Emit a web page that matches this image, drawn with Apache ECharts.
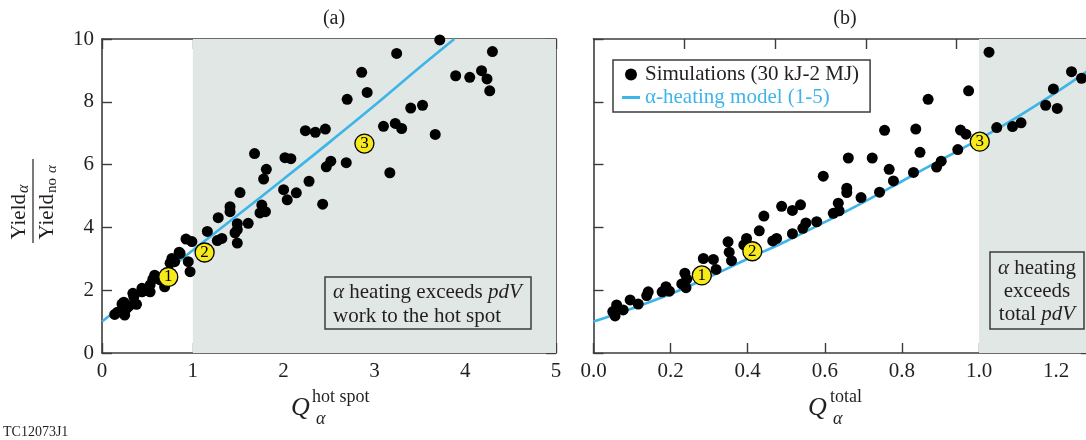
<!DOCTYPE html>
<html><head><meta charset="utf-8">
<script src="https://cdn.jsdelivr.net/npm/echarts@6/dist/echarts.min.js"></script>
<style>html,body{margin:0;padding:0;overflow:hidden;background:#fff}#c{width:1100px;height:440px}</style>
</head><body><div id="c"></div><script>
// ---- data ----
const simA = [[0.14,1.23],[0.17,1.30],[0.22,1.56],[0.25,1.21],[0.27,1.42],[0.24,1.62],[0.30,1.50],[0.34,1.90],[0.35,1.79],[0.38,1.55],
 [0.44,2.06],[0.44,1.95],[0.48,2.00],[0.53,1.95],[0.53,2.17],[0.56,2.35],[0.58,2.48],[0.64,2.33],[0.69,2.11],[0.75,2.86],
 [0.77,3.01],[0.80,2.91],[0.85,3.21],[0.86,3.17],[0.95,2.91],[0.97,2.59],[0.925,3.63],[0.99,3.55],[1.16,3.87],[1.27,3.58],
 [1.32,3.65],[1.28,4.31],[1.41,4.66],[1.41,4.50],[1.465,3.83],[1.49,3.93],[1.49,4.12],[1.61,4.13],[1.49,3.50],[1.52,5.11],
 [1.74,4.46],[1.76,4.71],[1.80,4.50],[1.68,6.35],[1.78,5.54],[1.81,5.85],[2.00,5.20],[2.04,4.88],[2.14,5.10],[2.015,6.22],
 [2.08,6.19],[2.28,5.47],[2.43,4.74],[2.24,7.08],[2.35,7.03],[2.46,7.13],[2.47,5.93],[2.52,6.11],[2.69,6.06],[2.70,8.08],
 [2.86,8.94],[2.92,8.30],[3.10,7.22],[3.17,5.74],[3.23,7.31],[3.30,7.15],[3.245,9.54],[3.40,7.80],[3.53,7.89],[3.67,6.96],
 [3.72,9.97],[3.895,8.83],[4.05,8.78],[4.18,8.99],[4.24,8.73],[4.27,8.35],[4.30,9.60]];
const modelA = [[0,1.0],[0.5,2.13],[1,3.27],[1.5,4.4],[2,5.54],[2.5,6.7],[3,7.88],[3.5,9.1],[3.88,10.0]];
const markersA = [[0.73,2.42,'1'],[1.13,3.2,'2'],[2.89,6.67,'3']];

const simB = [[0.05,1.32],[0.056,1.18],[0.06,1.53],[0.077,1.37],[0.095,1.69],[0.116,1.56],[0.138,1.83],[0.142,1.95],[0.178,1.95],[0.188,2.11],
 [0.197,1.97],[0.229,2.20],[0.24,2.08],[0.237,2.54],[0.242,2.35],[0.285,3.01],[0.311,2.98],[0.318,2.66],[0.349,3.54],[0.352,3.21],
 [0.358,2.94],[0.39,3.44],[0.397,3.65],[0.43,3.89],[0.442,4.36],[0.465,3.57],[0.475,3.65],[0.488,4.67],[0.516,4.54],[0.537,4.72],
 [0.516,3.80],[0.543,3.97],[0.551,4.14],[0.579,4.18],[0.596,5.63],[0.622,4.45],[0.637,4.53],[0.635,4.77],[0.657,5.25],[0.657,5.11],
 [0.661,6.21],[0.694,4.95],[0.723,6.21],[0.742,5.12],[0.755,7.09],[0.767,5.85],[0.778,5.48],[0.830,5.75],[0.836,7.13],[0.847,6.39],
 [0.868,8.08],[0.890,5.92],[0.902,6.11],[0.945,6.48],[0.952,7.10],[0.966,6.97],[0.973,8.35],[1.026,9.58],[1.046,7.18],[1.087,7.21],
 [1.109,7.33],[1.173,7.89],[1.203,7.79],[1.193,8.41],[1.24,8.96],[1.266,8.75]];
const modelB = [[0,1.0],[0.1,1.42],[0.2,1.88],[0.3,2.42],[0.4,3.0],[0.5,3.56],[0.6,4.17],[0.7,4.8],[0.8,5.47],[0.9,6.14],[1.0,6.8],[1.1,7.52],[1.2,8.3],[1.29,9.05]];
const markersB = [[0.281,2.47,'1'],[0.412,3.24,'2'],[1.002,6.73,'3']];

const nameSim = 'Simulations (30 kJ-2 MJ)';
const nameModel = '\u03b1-heating model (1-5)';
const panelTitles = ['(a)', '(b)'];

// ---- styles ----
const FONT = '"Liberation Serif", "DejaVu Serif", serif';
const INK = '#231f20';
const AXIS = '#3c3c3c';
const SHADE = '#e1e7e4';
const BLUE = '#3db5e8';

function axisBase(extra) {
  return Object.assign({
    type: 'value',
    axisLine: { show: true, onZero: false, lineStyle: { color: AXIS, width: 1.6 } },
    axisTick: { show: true, inside: true, length: 10, lineStyle: { color: AXIS, width: 1.4 } },
    splitLine: { show: false },
    axisLabel: { show: false, color: INK, fontFamily: FONT, fontSize: 21, margin: 8 }
  }, extra);
}

const option = {
  animation: false,
  backgroundColor: '#fff',
  title: [
    { text: panelTitles[0], left: 329, top: 4, textAlign: 'center', textStyle: { fontFamily: FONT, fontSize: 20, fontWeight: 'normal', color: INK } },
    { text: panelTitles[1], left: 840, top: 4, textAlign: 'center', textStyle: { fontFamily: FONT, fontSize: 20, fontWeight: 'normal', color: INK } }
  ],
  grid: [
    { left: 102, top: 39, width: 454, height: 314 },
    { left: 593.5, top: 39, width: 497.3, height: 314 }
  ],
  xAxis: [
    axisBase({ gridIndex: 0, position: 'bottom', min: 0, max: 5, interval: 1,
      axisLabel: { show: true, color: INK, fontFamily: FONT, fontSize: 21, margin: 8 } }),
    axisBase({ gridIndex: 0, position: 'top', min: 0, max: 5, interval: 1 }),
    axisBase({ gridIndex: 1, position: 'bottom', min: 0, max: 1.29, interval: 0.2,
      axisLabel: { show: true, color: INK, fontFamily: FONT, fontSize: 21, margin: 8, showMaxLabel: false,
        formatter: v => (Math.abs(v / 0.2 - Math.round(v / 0.2)) < 1e-6 ? v.toFixed(1) : '') } }),
    axisBase({ gridIndex: 1, position: 'top', min: 0, max: 5.477, interval: 1,
      axisTick: { show: true, inside: true, length: 10, customValues: [1, 2, 3, 4], lineStyle: { color: AXIS, width: 1.4 } } })
  ],
  yAxis: [
    axisBase({ gridIndex: 0, position: 'left', min: 0, max: 10, interval: 2,
      axisLabel: { show: true, color: INK, fontFamily: FONT, fontSize: 21, margin: 8 } }),
    axisBase({ gridIndex: 0, position: 'right', min: 0, max: 10, interval: 2 }),
    axisBase({ gridIndex: 1, position: 'left', min: 0, max: 10, interval: 2 }),
    axisBase({ gridIndex: 1, position: 'right', min: 0, max: 10, interval: 2 })
  ],
  legend: {
    orient: 'vertical', left: 613, top: 60,
    padding: [3, 11, 3, 9], itemGap: 0, itemWidth: 18, itemHeight: 12,
    borderColor: AXIS, borderWidth: 1.5, backgroundColor: '#fff',
    textStyle: { fontFamily: FONT, fontSize: 21, color: INK, lineHeight: 23 },
    data: [
      { name: nameSim, icon: 'circle' },
      { name: nameModel, icon: 'path://M0,0H18V3H0Z', itemStyle: { color: BLUE }, textStyle: { color: BLUE } }
    ]
  },
  series: [
    { type: 'scatter', xAxisIndex: 0, yAxisIndex: 0, data: [[-1, -1]], silent: true, z: 0, symbolSize: 0,
      markArea: { silent: true, itemStyle: { color: SHADE }, data: [[{ xAxis: 1, yAxis: 0 }, { xAxis: 5, yAxis: 10 }]] } },
    { type: 'scatter', xAxisIndex: 2, yAxisIndex: 2, data: [[-1, -1]], silent: true, z: 0, symbolSize: 0,
      markArea: { silent: true, itemStyle: { color: SHADE }, data: [[{ xAxis: 1.0, yAxis: 0 }, { xAxis: 1.29, yAxis: 10 }]] } },
    { name: nameModel, type: 'line', xAxisIndex: 0, yAxisIndex: 0, data: modelA, symbol: 'none', smooth: 0.3, z: 2,
      lineStyle: { color: BLUE, width: 2.6 }, itemStyle: { color: BLUE } },
    { name: nameModel, type: 'line', xAxisIndex: 2, yAxisIndex: 2, data: modelB, symbol: 'none', smooth: 0.3, z: 2,
      lineStyle: { color: BLUE, width: 2.6 }, itemStyle: { color: BLUE } },
    { name: nameSim, type: 'scatter', xAxisIndex: 0, yAxisIndex: 0, data: simA, symbol: 'circle', symbolSize: 11, z: 3,
      itemStyle: { color: '#000', opacity: 1 } },
    { name: nameSim, type: 'scatter', xAxisIndex: 2, yAxisIndex: 2, data: simB, symbol: 'circle', symbolSize: 11, z: 3,
      itemStyle: { color: '#000', opacity: 1 } },
    { name: 'markersA', type: 'scatter', xAxisIndex: 0, yAxisIndex: 0, data: markersA, symbolSize: 19, z: 4,
      itemStyle: { color: '#f7ea1c', borderColor: '#000', borderWidth: 1.3, opacity: 1 },
      label: { show: true, position: 'inside', formatter: p => p.value[2], fontFamily: FONT, fontSize: 17, color: '#000' } },
    { name: 'markersB', type: 'scatter', xAxisIndex: 2, yAxisIndex: 2, data: markersB, symbolSize: 19, z: 4,
      itemStyle: { color: '#f7ea1c', borderColor: '#000', borderWidth: 1.3, opacity: 1 },
      label: { show: true, position: 'inside', formatter: p => p.value[2], fontFamily: FONT, fontSize: 17, color: '#000' } }
  ],
  graphic: [
    // y-axis title (fraction), rotated
    { type: 'group', x: 33, y: 201, rotation: Math.PI / 2, children: [
      { type: 'text', style: { text: 'Yield', x: 7, y: -14, font: '21px ' + FONT, align: 'right', textAlign: 'right', verticalAlign: 'middle', textVerticalAlign: 'middle', fill: INK } },
      { type: 'text', style: { text: '\u03b1', x: 8, y: -9, font: 'italic 16px ' + FONT, align: 'left', textAlign: 'left', verticalAlign: 'middle', textVerticalAlign: 'middle', fill: INK } },
      { type: 'line', shape: { x1: -42, y1: 0, x2: 42, y2: 0 }, style: { stroke: INK, lineWidth: 1.2 } },
      { type: 'text', style: { text: 'Yield', x: 7, y: 14, font: '21px ' + FONT, align: 'right', textAlign: 'right', verticalAlign: 'middle', textVerticalAlign: 'middle', fill: INK } },
      { type: 'text', style: { text: 'no ', x: 8, y: 19, font: '15px ' + FONT, align: 'left', textAlign: 'left', verticalAlign: 'middle', textVerticalAlign: 'middle', fill: INK } },
      { type: 'text', style: { text: '\u03b1', x: 28, y: 19, font: 'italic 15px ' + FONT, align: 'left', textAlign: 'left', verticalAlign: 'middle', textVerticalAlign: 'middle', fill: INK } }
    ] },
    // x-axis title (a)
    { type: 'text', style: { text: 'Q', x: 291, y: 421, font: 'italic 26px ' + FONT, align: 'left', textAlign: 'left', verticalAlign: 'bottom', textVerticalAlign: 'bottom', fill: INK } },
    { type: 'text', style: { text: 'hot spot', x: 312, y: 406, font: '18px ' + FONT, align: 'left', textAlign: 'left', verticalAlign: 'bottom', textVerticalAlign: 'bottom', fill: INK } },
    { type: 'text', style: { text: '\u03b1', x: 316, y: 428, font: 'italic 18px ' + FONT, align: 'left', textAlign: 'left', verticalAlign: 'bottom', textVerticalAlign: 'bottom', fill: INK } },
    // x-axis title (b)
    { type: 'text', style: { text: 'Q', x: 808, y: 421, font: 'italic 26px ' + FONT, align: 'left', textAlign: 'left', verticalAlign: 'bottom', textVerticalAlign: 'bottom', fill: INK } },
    { type: 'text', style: { text: 'total', x: 830, y: 406, font: '18px ' + FONT, align: 'left', textAlign: 'left', verticalAlign: 'bottom', textVerticalAlign: 'bottom', fill: INK } },
    { type: 'text', style: { text: '\u03b1', x: 833, y: 428, font: 'italic 18px ' + FONT, align: 'left', textAlign: 'left', verticalAlign: 'bottom', textVerticalAlign: 'bottom', fill: INK } },
    // figure id
    { type: 'text', style: { text: 'TC12073J1', x: 3, y: 432, font: '14px ' + FONT, align: 'left', textAlign: 'left', verticalAlign: 'middle', textVerticalAlign: 'middle', fill: INK } },
    // annotation box (a)
    { type: 'rect', z: 10, shape: { x: 325, y: 277, width: 206, height: 52 }, style: { fill: SHADE, stroke: AXIS, lineWidth: 1.5 } },
    { type: 'text', z: 11, style: { text: '{i|\u03b1} heating exceeds {i|pdV}\nwork to the hot spot', x: 333, y: 304,
      font: '21px ' + FONT, align: 'left', textAlign: 'left', verticalAlign: 'middle', textVerticalAlign: 'middle', fill: INK, lineHeight: 24,
      rich: { i: { fontStyle: 'italic', fontFamily: FONT, fontSize: 21, lineHeight: 24, fill: INK, color: INK } } } },
    // annotation box (b)
    { type: 'rect', z: 10, shape: { x: 990, y: 252, width: 94, height: 77 }, style: { fill: SHADE, stroke: AXIS, lineWidth: 1.5 } },
    { type: 'text', z: 11, style: { text: '{i|\u03b1} heating\nexceeds\ntotal {i|pdV}', x: 1037, y: 291,
      font: '21px ' + FONT, align: 'center', textAlign: 'center', verticalAlign: 'middle', textVerticalAlign: 'middle', fill: INK, lineHeight: 23,
      rich: { i: { fontStyle: 'italic', fontFamily: FONT, fontSize: 21, lineHeight: 23, fill: INK, color: INK } } } }
  ]
};
const chart = echarts.init(document.getElementById('c'), null, { renderer: 'canvas' });
chart.setOption(option);
</script></body></html>
